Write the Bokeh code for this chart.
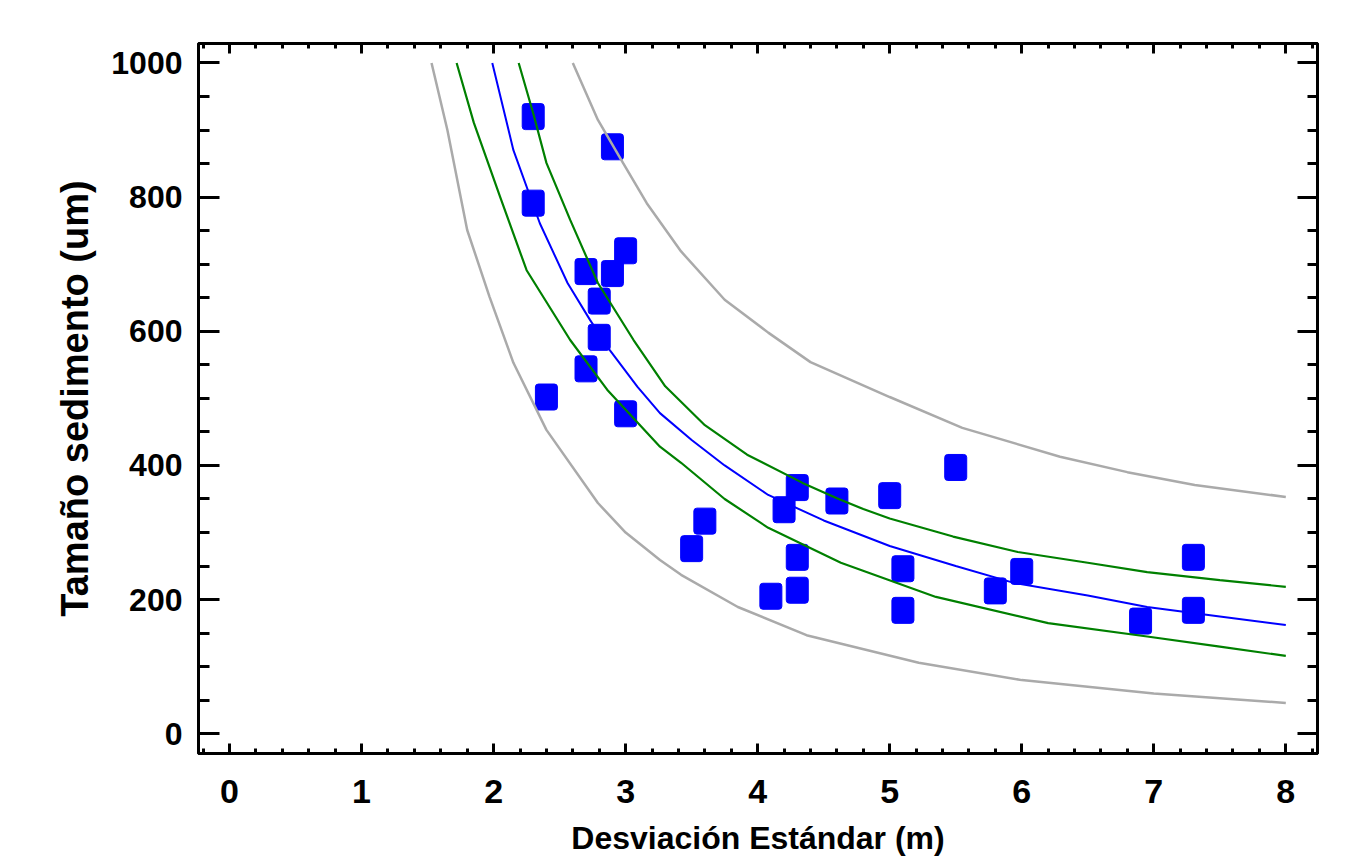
from bokeh.plotting import figure
from bokeh.models import Range1d, LinearAxis, SingleIntervalTicker, ColumnDataSource
from bokeh.embed import file_html
from bokeh.resources import INLINE

# ---- data ----
desviacion = [2.3, 2.3, 2.9, 3.0, 2.7, 2.9, 2.8, 2.8, 2.7, 2.4, 3.0,
              3.5, 3.6, 4.1, 4.2, 4.3, 4.3, 4.3, 4.6, 5.0, 5.5, 5.1, 5.1,
              5.8, 6.0, 6.9, 7.3, 7.3]
tamano = [920, 791, 875, 720, 689, 686, 645, 591, 544, 502, 477,
          276, 317, 205, 334, 367, 263, 214, 347, 355, 397, 246, 184,
          213, 242, 168, 263, 184]

fit_x = [1.99, 2.15, 2.35, 2.56, 2.73, 2.88, 3.09, 3.26, 3.5, 3.75, 4.08,
         4.5, 5.0, 5.5, 5.94, 6.5, 6.95, 7.5, 8.0]
fit_y = [1000, 870, 761, 672, 617, 572, 517, 478, 438, 400, 356,
         318, 280, 250, 225, 206, 189, 175, 162]

conf_lo_x = [1.72, 1.85, 2.05, 2.25, 2.58, 2.86, 3.26, 3.42, 3.75, 4.08,
             4.63, 5.35, 6.2, 6.95, 7.5, 8.0]
conf_lo_y = [1000, 911, 800, 691, 587, 513, 428, 404, 350, 307,
             255, 204, 165, 145, 130, 116]

conf_hi_x = [2.19, 2.30, 2.40, 2.58, 2.79, 3.06, 3.30, 3.60, 3.92, 4.34,
             4.6, 4.8, 5.0, 5.48, 5.97, 6.5, 6.95, 7.5, 8.0]
conf_hi_y = [1000, 925, 851, 766, 672, 587, 518, 460, 416, 374,
             351, 335, 321, 294, 271, 255, 241, 229, 219]

pred_lo_x = [1.53, 1.65, 1.80, 1.97, 2.15, 2.40, 2.79, 3.0, 3.26, 3.42,
             3.85, 4.37, 5.22, 6.0, 7.0, 7.5, 8.0]
pred_lo_y = [1000, 900, 751, 651, 553, 453, 344, 300, 259, 237,
             189, 147, 106, 80, 60, 53, 46]

pred_hi_x = [2.60, 2.79, 2.98, 3.16, 3.42, 3.75, 4.08, 4.40, 4.7, 5.0,
             5.55, 6.29, 6.8, 7.31, 8.0]
pred_hi_y = [1000, 915, 851, 791, 719, 647, 598, 554, 528, 502,
             456, 413, 390, 371, 353]

x_label = "Desviación Estándar (m)"
y_label = "Tamaño sedimento (um)"

# ---- figure ----
p = figure(width=1348, height=862, output_backend="svg", toolbar_location=None,
           x_range=Range1d(-0.235, 8.24), y_range=Range1d(-29.4, 1029),
           min_border_left=198, min_border_right=31, min_border_top=43,
           min_border_bottom=109, x_axis_location=None, y_axis_location=None)
p.xgrid.visible = False
p.ygrid.visible = False
p.outline_line_color = "black"
p.outline_line_width = 3
p.background_fill_color = "white"
p.border_fill_color = "white"

xt = SingleIntervalTicker(interval=1, num_minor_ticks=5)
yt = SingleIntervalTicker(interval=200, num_minor_ticks=4)

FONT = "Liberation Sans"


def style(ax, major_in, minor_in, labels=True):
    ax.major_tick_in = major_in
    ax.major_tick_out = 0
    ax.minor_tick_in = minor_in
    ax.minor_tick_out = 0
    ax.major_tick_line_width = 3
    ax.minor_tick_line_width = 3
    ax.axis_line_width = 3
    ax.axis_line_color = "black"
    ax.major_tick_line_color = "black"
    ax.minor_tick_line_color = "black"
    if labels:
        ax.major_label_text_font = FONT
        ax.major_label_text_font_style = "bold"
        ax.major_label_text_color = "black"
        ax.axis_label_text_font = FONT
        ax.axis_label_text_font_style = "bold"
        ax.axis_label_text_color = "black"
    else:
        ax.major_label_text_font_size = "0px"
        ax.major_label_text_color = None
        ax.major_label_standoff = 0


bottom = LinearAxis(ticker=xt, axis_label=x_label)
style(bottom, 10, 5)
bottom.major_label_text_font_size = "34px"
bottom.major_label_standoff = 26
bottom.axis_label_text_font_size = "32px"
bottom.axis_label_standoff = 14
p.add_layout(bottom, "below")

left = LinearAxis(ticker=yt, axis_label=y_label)
style(left, 21, 11)
left.major_label_text_font_size = "32px"
left.major_label_standoff = 16
left.axis_label_text_font_size = "38px"
left.axis_label_standoff = 12
p.add_layout(left, "left")

top = LinearAxis(ticker=xt)
style(top, 10, 5, labels=False)
p.add_layout(top, "above")

right = LinearAxis(ticker=yt)
style(right, 20, 10, labels=False)
p.add_layout(right, "right")

# ---- marks ----
pts = ColumnDataSource(dict(x=desviacion, y=tamano))
p.rect(x="x", y="y", width=22, height=26, width_units="screen",
       height_units="screen", source=pts, fill_color="#0000ff",
       line_color="#0000ff", border_radius=3)

p.line(pred_lo_x, pred_lo_y, line_color="#aaaaaa", line_width=2.5)
p.line(pred_hi_x, pred_hi_y, line_color="#aaaaaa", line_width=2.5)
p.line(conf_lo_x, conf_lo_y, line_color="#008000", line_width=2.2)
p.line(conf_hi_x, conf_hi_y, line_color="#008000", line_width=2.2)
p.line(fit_x, fit_y, line_color="#0000ff", line_width=2)

open("out.html", "w").write(file_html(p, INLINE))
